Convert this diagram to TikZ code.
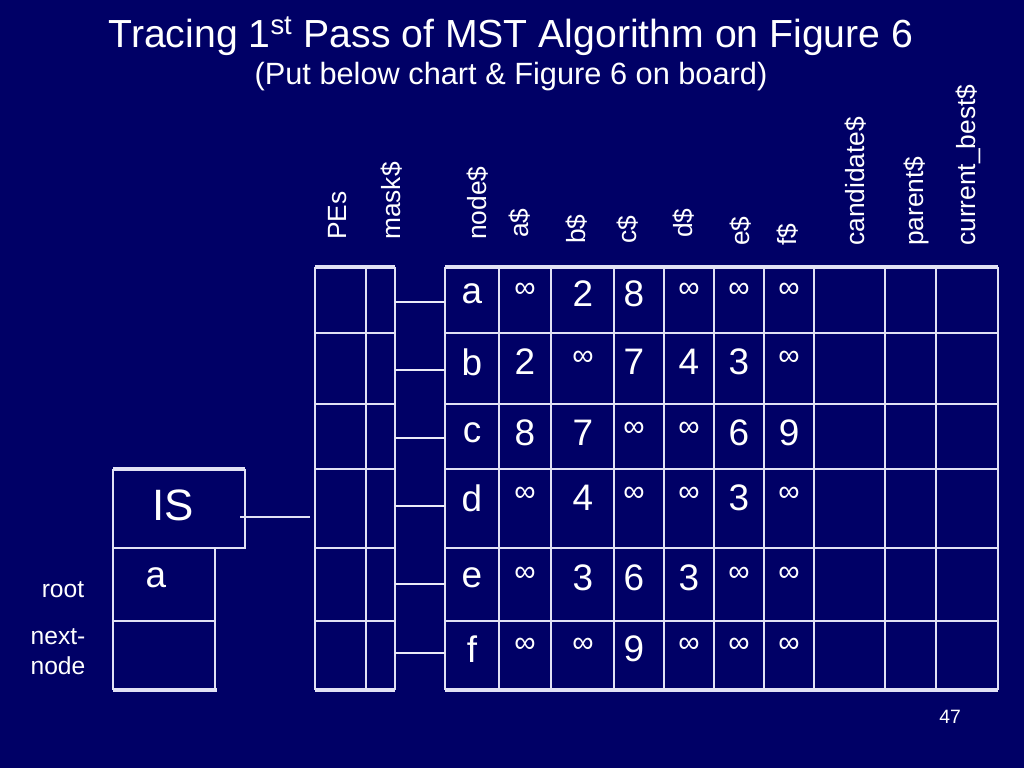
\documentclass[tikz,border=0pt]{standalone}
\usepackage{fontspec}
\setmainfont{Liberation Sans}
\definecolor{slidebg}{RGB}{0,0,102}
\definecolor{gridline}{RGB}{225,225,245}
\begin{document}
\begin{tikzpicture}
                            [x=0.02cm,y=-0.02cm,
                            grid/.style = {draw=gridline, line width=0.9pt},
                            thickgrid/.style = {draw=gridline, line width=2pt},
                            head/.style = {rotate=90, anchor=west, text=white, font=\fontsize{15}{17}\selectfont},
                            cell/.style = {text=white, font=\fontsize{21}{24}\selectfont},
                            inf/.style = {text=white, font=\fontsize{17}{20}\selectfont},
                            side/.style = {text=white, font=\fontsize{14}{17}\selectfont, align=center}]
                            \fill[slidebg] (0,0) rectangle (1024,768);
                            % Title
                            \node[text=white, font=\fontsize{22.3}{26}\selectfont] (title) at (511,36) {Tracing 1\textsuperscript{st} Pass of MST Algorithm on Figure 6};
                            \node[text=white, font=\fontsize{17.5}{20}\selectfont] (subtitle) at (511,77) {(Put below chart \& Figure 6 on board)};
                            % Column headings
                            \foreach \x/\y/\t in {338/246/PEs, 392/246/mask\$, 478/246/node\$, 520/244/a\$,
                                577/250/b\$, 628/250/c\$, 684/244/d\$, 741/252/e\$, 788/252/f\$,
                                856/252/candidate\$, 916/252/parent\$, 968/252/current\_best\$}
                                \node[head] at (\x,\y) {\t};
                            % PE table
                            \foreach \y in {333,404,469,548,621}
                                \draw[grid] (315,\y) -- (395,\y);
                            \foreach \x in {315,366,395}
                                \draw[grid] (\x,267) -- (\x,690);
                            \draw[thickgrid] (315,267) -- (395,267);
                            \draw[thickgrid] (315,690) -- (395,690);
                            % Adjacency table
                            \foreach \y in {333,404,469,548,621}
                                \draw[grid] (445,\y) -- (998,\y);
                            \foreach \x in {445,499,551,614,664,714,764,814,885,936,998}
                                \draw[grid] (\x,267) -- (\x,690);
                            \draw[thickgrid] (445,267) -- (998,267);
                            \draw[thickgrid] (445,690) -- (998,690);
                            % Links from PEs to rows
                            \foreach \y in {302,370,438,506,584,653}
                                \draw[grid, draw=gridline!70] (395,\y) -- (445,\y);
                            % Entries
                            \foreach \y/\n/\va/\vb/\vc/\vd/\ve/\vf in {294/a/i/2/8/i/i/i, 362/b/2/i/7/4/3/i,
                                433/c/8/7/i/i/6/9, 498/d/i/4/i/i/3/i, 578/e/i/3/6/3/i/i, 649/f/i/i/9/i/i/i}
                            {
                                \node[cell] at (472,\y) {\n};
                                \foreach \x/\v in {525/\va, 583/\vb, 634/\vc, 689/\vd, 739/\ve, 789/\vf}
                                {
                                    \if i\v \node[inf] at (\x,\y-4) {∞};
                                    \else \node[cell] at (\x,\y) {\v}; \fi
                                }
                            }
                            % IS box
                            \draw[thickgrid] (113,469) -- (245,469);
                            \draw[grid] (113,469) -- (113,690);
                            \draw[grid] (245,469) -- (245,548) -- (113,548);
                            \draw[grid] (215,548) -- (215,690);
                            \draw[grid] (113,621) -- (215,621);
                            \draw[thickgrid] (113,690) -- (217,690);
                            \node[cell, font=\fontsize{25}{28}\selectfont] (IS) at (173,505) {IS};
                            \node[cell] (root) at (156,578) {a};
                            \draw[grid] (240,517) -- (310,517);
                            \node[side] at (63,590) {root};
                            \node[side] at (58,652) {next-\\node};
                            \node[text=white, font=\fontsize{11}{13}\selectfont] at (950,717) {47};
                        \end{tikzpicture}
\end{document}
